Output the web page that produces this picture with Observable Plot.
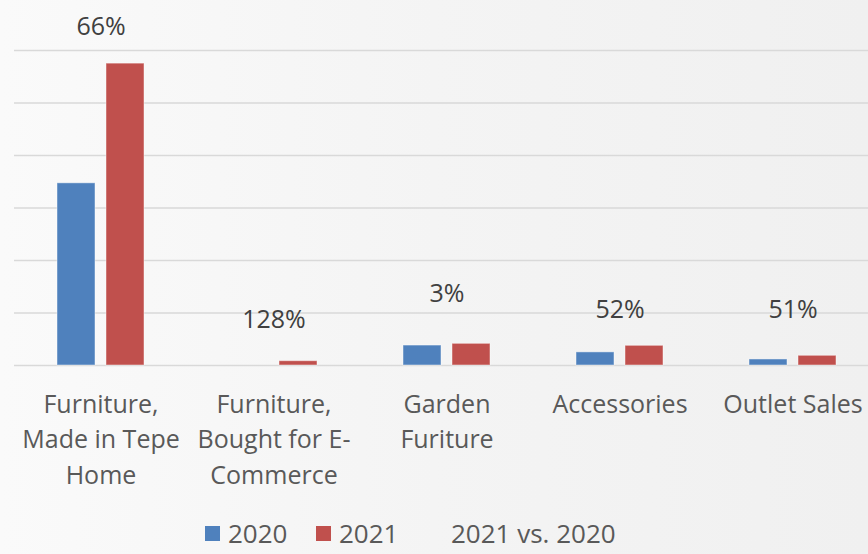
<!DOCTYPE html>
<html>
<head>
<meta charset="utf-8">
<script src="https://cdn.jsdelivr.net/npm/d3@7"></script>
<script src="https://cdn.jsdelivr.net/npm/@observablehq/plot@0.6"></script>
<style>
  html, body { margin: 0; padding: 0; width: 868px; height: 554px; overflow: hidden; }
  body { background: linear-gradient(90deg, #fafafa 0%, #f4f4f4 50%, #f0f0f0 100%); font-family: "Open Sans", sans-serif; color: #595959; }
  #chart { width: 868px; height: 510px; overflow: hidden; }
  #chart svg { display: block; max-width: none !important; }
  #legend { position: relative; height: 44px; font-size: 26px; color: #595959; }
  .item { position: absolute; top: 10px; display: flex; align-items: center; line-height: 1; }
  .sw { width: 15px; height: 15px; margin-right: 8px; }
</style>
</head>
<body>
<div id="chart"></div>
<div id="legend"></div>
<script>
const categories = ["Furniture,\nMade in Tepe\nHome", "Furniture,\nBought for E-\nCommerce", "Garden\nFuriture", "Accessories", "Outlet Sales"];
const years = ["2020", "2021"];
const values2020 = [34.7, 0, 3.8, 2.5, 1.15];
const values2021 = [57.5, 0.82, 4.13, 3.75, 1.85];
const vsLabels = ["66%", "128%", "3%", "52%", "51%"];
const vsAnchor = [64.4, 8.6, 13.7, 10.5, 10.5];
const yTicks = [0, 10, 20, 30, 40, 50, 60];
const colors = ["#4f81bd", "#c0504d"];

const rows = [];
categories.forEach((c, i) => {
  rows.push({cat: c, year: years[0], value: values2020[i]});
  rows.push({cat: c, year: years[1], value: values2021[i]});
});
const vsRows = categories.map((c, i) => ({cat: c, label: vsLabels[i], anchor: vsAnchor[i]}));

const H = 510;
const chart = Plot.plot({
  width: 880,
  height: H,
  marginLeft: 12,
  marginRight: 0,
  marginTop: 50,
  marginBottom: H - 365,
  style: {background: "transparent", fontFamily: "'Open Sans', sans-serif", maxWidth: "none"},
  fx: {domain: categories, padding: 0},
  x: {domain: years, paddingInner: 0.22, paddingOuter: 0.843, axis: null},
  y: {domain: [0, 60], axis: null},
  color: {domain: years, range: colors},
  marks: [
    Plot.ruleY(yTicks, {stroke: "#d9d9d9", strokeWidth: 1.5}),
    Plot.barY(rows, {fx: "cat", x: "year", y: "value", fill: "year", stroke: "#ffffff", strokeOpacity: 0.45, strokeWidth: 1}),
    Plot.text(vsRows, {fx: "cat", y: "anchor", text: "label", fontSize: 25, fill: "#404040"}),
    Plot.axisFx({anchor: "bottom", tickSize: 0, tickPadding: 22, fontSize: 25, lineHeight: 1.42, fill: "#595959", label: null, textAnchor: "middle"})
  ]
});
document.getElementById("chart").appendChild(chart);

const legend = document.getElementById("legend");
const items = [
  {text: years[0], color: colors[0], left: 205},
  {text: years[1], color: colors[1], left: 316},
  {text: "2021 vs. 2020", color: null, left: 451}
];
items.forEach(it => {
  const d = document.createElement("div");
  d.className = "item";
  d.style.left = it.left + "px";
  if (it.color) {
    const s = document.createElement("span");
    s.className = "sw";
    s.style.background = it.color;
    d.appendChild(s);
  }
  const t = document.createElement("span");
  t.textContent = it.text;
  d.appendChild(t);
  legend.appendChild(d);
});
</script>
</body>
</html>
